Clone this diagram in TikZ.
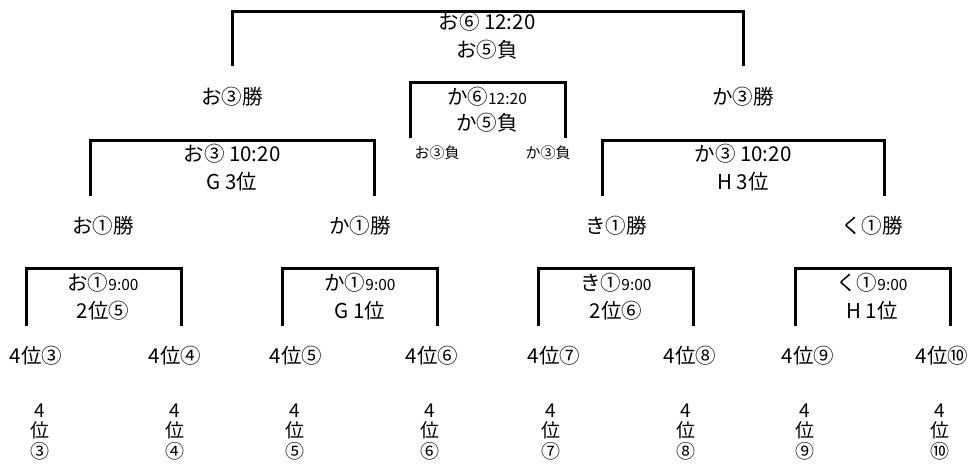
\documentclass[tikz,border=0pt]{standalone}
\usepackage{fontspec}
\setmainfont{Noto Sans CJK JP}
\usepackage{tikz}

\begin{document}
\begin{tikzpicture}[x=1pt,y=-1pt,line width=3pt,
        lbl/.style={inner sep=0pt,align=center,font=\fontsize{20.5}{28}\selectfont},
        small/.style={inner sep=0pt,font=\fontsize{15}{16}\selectfont},
        rank/.style={inner sep=0pt,align=center,font=\fontsize{19}{20.5}\selectfont}]

    \useasboundingbox (0,0) rectangle (975,472);

    % final and 3rd place match
    \node[lbl] (final) at (487,36) {お⑥ 12:20\\お⑤負};
    \node[lbl] (plate) at (487,110) {か⑥{\fontsize{15.5}{16}\selectfont 12:20}\\[-2pt]か⑤負};
    \node[lbl] (o3w) at (232,97) {お③勝};
    \node[lbl] (k3w) at (743,97) {か③勝};
    \node[small] (o3l) at (437,153) {お③負};
    \node[small] (k3l) at (548,153) {か③負};

    % semi finals
    \node[lbl] (o3) at (232,168) {お③ 10:20\\G 3位};
    \node[lbl] (k3) at (743,168) {か③ 10:20\\H 3位};
    \node[lbl] (o1w) at (103,226) {お①勝};
    \node[lbl] (k1w) at (360,226) {か①勝};
    \node[lbl] (ki1w) at (616,226) {き①勝};
    \node[lbl] (ku1w) at (872,226) {く①勝};

    % first round
    \node[lbl] (o1) at (103,297) {お①{\fontsize{15.5}{16}\selectfont 9:00}\\2位⑤};
    \node[lbl] (k1) at (360,297) {か①{\fontsize{15.5}{16}\selectfont 9:00}\\G 1位};
    \node[lbl] (ki1) at (616,297) {き①{\fontsize{15.5}{16}\selectfont 9:00}\\2位⑥};
    \node[lbl] (ku1) at (872,297) {く①{\fontsize{15.5}{16}\selectfont 9:00}\\H 1位};

    \node[lbl] (r3) at (36,356) {4位③};
    \node[lbl] (r4) at (175,356) {4位④};
    \node[lbl] (r5) at (296,356) {4位⑤};
    \node[lbl] (r6) at (432,356) {4位⑥};
    \node[lbl] (r7) at (554,356) {4位⑦};
    \node[lbl] (r8) at (690,356) {4位⑧};
    \node[lbl] (r9) at (808,356) {4位⑨};
    \node[lbl] (r10) at (942,356) {4位⑩};

    \node[rank] (v3) at (40,432) {4\\位\\③};
    \node[rank] (v4) at (175,432) {4\\位\\④};
    \node[rank] (v5) at (295,432) {4\\位\\⑤};
    \node[rank] (v6) at (430,432) {4\\位\\⑥};
    \node[rank] (v7) at (551,432) {4\\位\\⑦};
    \node[rank] (v8) at (686,432) {4\\位\\⑧};
    \node[rank] (v9) at (805,432) {4\\位\\⑨};
    \node[rank] (v10) at (940,432) {4\\位\\⑩};

    % bracket ends
    \coordinate (finalL) at (232,66);
    \coordinate (finalR) at (743,66);
    \coordinate (plateL) at (410,138);
    \coordinate (plateR) at (565,138);
    \coordinate (o3L) at (90,196);
    \coordinate (o3R) at (374,196);
    \coordinate (k3L) at (602,196);
    \coordinate (k3R) at (884,196);
    \coordinate (o1L) at (26,326);
    \coordinate (o1R) at (181,326);
    \coordinate (k1L) at (282,326);
    \coordinate (k1R) at (437,326);
    \coordinate (ki1L) at (538,326);
    \coordinate (ki1R) at (693,326);
    \coordinate (ku1L) at (795,326);
    \coordinate (ku1R) at (950,326);

    \draw (finalL) -- ++(0,-55) -| (finalR);
    \draw (plateL) -- ++(0,-56) -| (plateR);
    \draw (o3L) -- ++(0,-56) -| (o3R);
    \draw (k3L) -- ++(0,-56) -| (k3R);
    \draw (o1L) -- ++(0,-58) -| (o1R);
    \draw (k1L) -- ++(0,-58) -| (k1R);
    \draw (ki1L) -- ++(0,-58) -| (ki1R);
    \draw (ku1L) -- ++(0,-58) -| (ku1R);

\end{tikzpicture}
\end{document}
